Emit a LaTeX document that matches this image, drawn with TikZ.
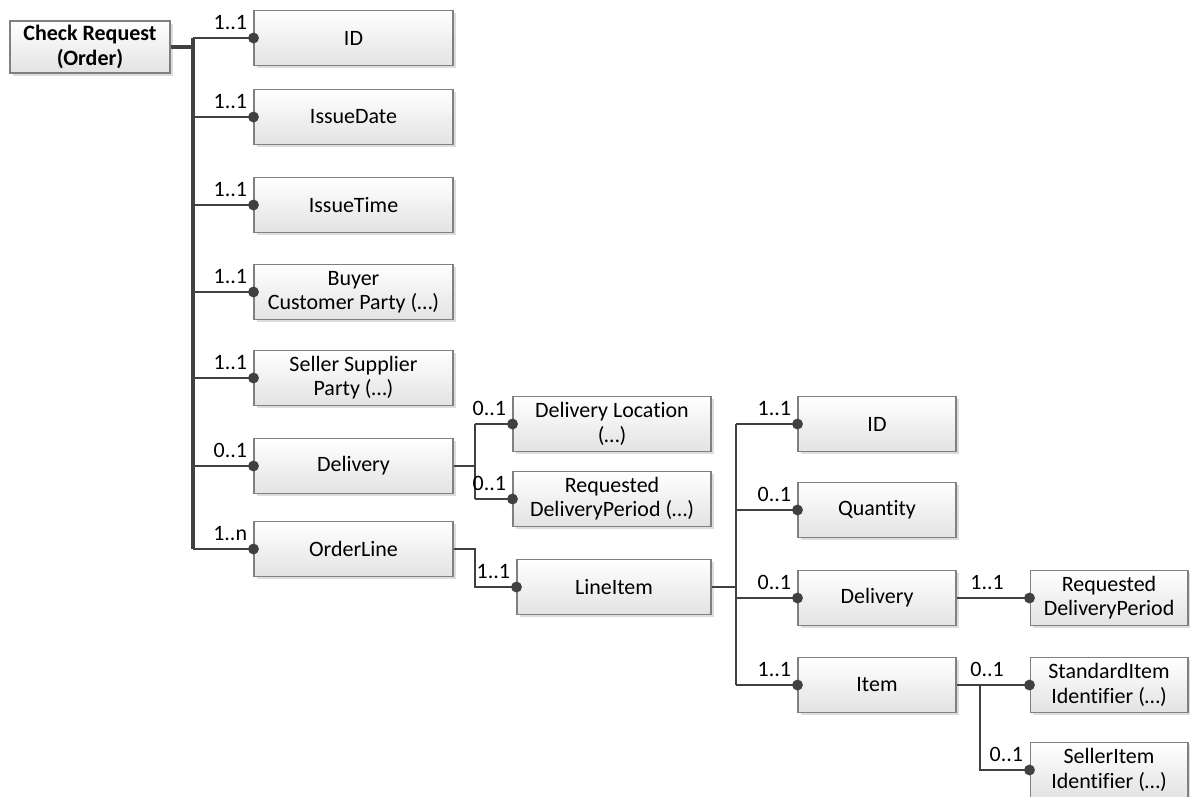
\documentclass[tikz,border=0pt]{standalone}
\usepackage{fontspec}
\setmainfont{Carlito}[Ligatures=NoCommon]
\usepackage{tikz}
\usetikzlibrary{shadows}
\definecolor{linegray}{rgb}{0.25, 0.25, 0.25}
\definecolor{edgegray}{rgb}{0.50, 0.50, 0.50}

\tikzset{
  box/.style={draw=edgegray, line width=0.6pt, top color=white, bottom color=black!11,
    align=center, inner sep=0pt, minimum height=1.1cm,
    font=\fontsize{12.5}{13.8}\selectfont,
    drop shadow={shadow xshift=1.6pt, shadow yshift=-1.6pt, opacity=0.22, fill=black!60}},
  rootbox/.style={box, minimum width=3.2cm, minimum height=1.04cm, font=\fontsize{12.5}{14.5}\selectfont\bfseries},
  lbox/.style={box, minimum width=3.98cm},
  mbox/.style={box, minimum width=3.96cm},
  sbox/.style={box, minimum width=3.16cm},
  link/.style={draw=linegray, line width=1.3pt},
  trunk/.style={draw=linegray, line width=1.9pt},
  mult/.style={anchor=south east, inner sep=1pt, xshift=-2pt, yshift=3pt,
    font=\fontsize{12.5}{13.8}\selectfont}
}

\begin{document}
\begin{tikzpicture}[x=0.02cm, y=-0.02cm]
    \useasboundingbox (0,0) rectangle (1190,796);

    \node[rootbox] (root) at (90,47) {Check Request\\(Order)};
    \node[lbox] (id) at (353.5,38) {ID};
    \node[lbox] (date) at (353.5,117) {IssueDate};
    \node[lbox] (time) at (353.5,205) {IssueTime};
    \node[lbox] (buyer) at (353.5,292) {Buyer\\Customer Party (…)};
    \node[lbox] (seller) at (353.5,378) {Seller Supplier\\Party (…)};
    \node[lbox] (deliv) at (353.5,466) {Delivery};
    \node[lbox] (oline) at (353.5,549) {OrderLine};

    \node[mbox] (dloc) at (612,424) {Delivery Location\\(…)};
    \node[mbox] (dper) at (612,499) {Requested\\DeliveryPeriod (…)};
    \node[mbox, minimum width=3.88cm] (litem) at (614,587) {LineItem};

    \node[sbox] (iid) at (877,424) {ID};
    \node[sbox] (qty) at (877,510) {Quantity};
    \node[sbox] (idel) at (877,598) {Delivery};
    \node[sbox] (item) at (877,685) {Item};

    \node[sbox] (rdp) at (1109,598) {Requested\\DeliveryPeriod};
    \node[sbox] (std) at (1109,685) {StandardItem\\Identifier (…)};
    \node[sbox] (sell) at (1109,770) {SellerItem\\Identifier (…)};

    \coordinate (ja) at (193,0);
    \coordinate (jb) at (475,0);
    \coordinate (jc) at (736,0);
    \coordinate (jd) at (980,0);

    \draw[trunk] (root.east) -- (root.east -| ja);
    \draw[trunk] (ja |- id.west) -- (ja |- oline.west);
    \foreach \n/\m in {id/1..1, date/1..1, time/1..1, buyer/1..1, seller/1..1, deliv/0..1, oline/1..n}
    \draw[link] (ja |- \n.west) -- (\n.west) node[mult] {\m};

    \draw[link] (deliv.east) -- (deliv.east -| jb);
    \draw[link] (jb |- dloc.west) -- (jb |- dper.west);
    \draw[link] (jb |- dloc.west) -- (dloc.west) node[mult] {0..1};
    \draw[link] (jb |- dper.west) -- (dper.west) node[mult] {0..1};
    \draw[link] (oline.east) -| (jb |- litem.west) -- (litem.west) node[mult] {1..1};

    \draw[link] (litem.east) -- (litem.east -| jc);
    \draw[link] (jc |- iid.west) -- (jc |- item.west);
    \foreach \n/\m in {iid/1..1, qty/0..1, idel/0..1, item/1..1}
    \draw[link] (jc |- \n.west) -- (\n.west) node[mult] {\m};

    \draw[link] (idel.east) -- (rdp.west) node[mult, xshift=-11pt] {1..1};
    \draw[link] (item.east) -- (std.west) node[mult, xshift=-11pt] {0..1};
    \draw[link] (jd |- item.east) |- (sell.west) node[mult] {0..1};

    \foreach \n in {id, date, time, buyer, seller, deliv, oline, dloc, dper, litem, iid, qty, idel, item, rdp, std, sell}
    \fill[linegray] (\n.west) circle (3.1pt);
\end{tikzpicture}
\end{document}
